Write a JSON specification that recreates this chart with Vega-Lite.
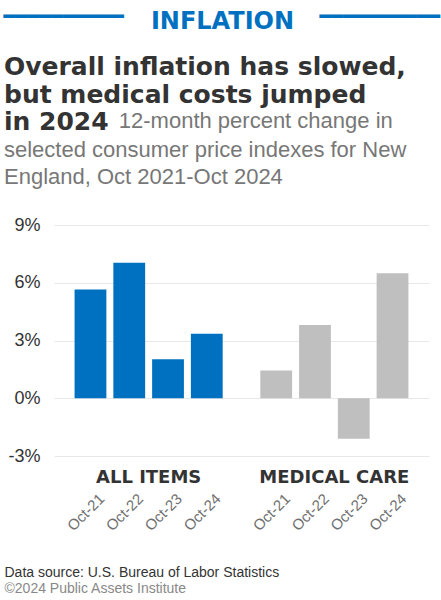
{
  "$schema": "https://vega.github.io/schema/vega-lite/v6.json",
  "autosize": {"type": "none"},
  "width": 375,
  "height": 231,
  "padding": {"left": 54, "top": 225, "right": 12, "bottom": 144},
  "background": "white",
  "title": {
    "text": ["Overall inflation has slowed,", "but medical costs jumped", "in 2024"],
    "subtitle": ["selected consumer price indexes for New", "England, Oct 2021-Oct 2024"],
    "anchor": "start",
    "frame": "group",
    "dx": -50,
    "offset": -181,
    "font": "DejaVu Sans",
    "fontWeight": "bold",
    "fontSize": 25,
    "lineHeight": 27.8,
    "color": "#333333",
    "subtitleFont": "Liberation Sans",
    "subtitleFontSize": 22,
    "subtitleColor": "#777777",
    "subtitleLineHeight": 26.5,
    "subtitlePadding": 4.5
  },
  "data": {
    "values": [
      {"group": "ALL ITEMS", "date": "Oct-21", "change": 5.65},
      {"group": "ALL ITEMS", "date": "Oct-22", "change": 7.04},
      {"group": "ALL ITEMS", "date": "Oct-23", "change": 2.03},
      {"group": "ALL ITEMS", "date": "Oct-24", "change": 3.35},
      {"group": "MEDICAL CARE", "date": "Oct-21", "change": 1.44},
      {"group": "MEDICAL CARE", "date": "Oct-22", "change": 3.81},
      {"group": "MEDICAL CARE", "date": "Oct-23", "change": -2.1},
      {"group": "MEDICAL CARE", "date": "Oct-24", "change": 6.5}
    ]
  },
  "layer": [
    {
      "mark": {"type": "bar"},
      "encoding": {
        "x": {
          "field": "group", "type": "nominal",
          "scale": {"paddingInner": 0.165, "paddingOuter": 0.092},
          "axis": {
            "orient": "bottom",
            "title": "Data source: U.S. Bureau of Labor Statistics",
            "titleFont": "Liberation Sans", "titleFontSize": 14, "titleFontWeight": "normal", "titleColor": "#333333",
            "titleAlign": "left", "titleBaseline": "alphabetic", "titleAngle": 0,
            "titleX": -50, "titleY": 120.7,
            "labelAngle": 0, "labelFont": "DejaVu Sans", "labelFontWeight": "bold", "labelFontSize": 18,
            "labelColor": "#333333", "labelBaseline": "alphabetic", "labelPadding": 26.3,
            "ticks": false, "tickSize": 0, "domain": false, "grid": false
          }
        },
        "xOffset": {"field": "date", "type": "nominal", "scale": {"paddingInner": 0.18, "paddingOuter": 0.09}},
        "y": {
          "field": "change", "type": "quantitative",
          "scale": {"domain": [-3, 9], "nice": false, "zero": false},
          "axis": {
            "orient": "left",
            "values": [-3, 0, 3, 6, 9],
            "labelExpr": "datum.value + '%'",
            "labelFont": "Liberation Sans", "labelFontSize": 18, "labelColor": "#333333",
            "labelPadding": 14, "ticks": false, "tickSize": 0, "domain": false,
            "grid": true, "gridColor": "#e8e8e8", "gridWidth": 1,
            "title": "INFLATION",
            "titleFont": "DejaVu Sans", "titleFontWeight": "bold", "titleFontSize": 24, "titleColor": "#0070c0",
            "titleAngle": 0, "titleAlign": "center", "titleBaseline": "alphabetic",
            "titleX": 168, "titleY": -196.7
          }
        },
        "color": {
          "field": "group", "type": "nominal",
          "scale": {"domain": ["ALL ITEMS", "MEDICAL CARE"], "range": ["#0070c0", "#bfbfbf"]},
          "legend": null
        }
      }
    },
    {
      "mark": {"type": "text", "angle": 315, "align": "right", "baseline": "middle", "dx": -20.5, "dy": 36.6, "font": "Liberation Sans", "fontSize": 15, "color": "#707070"},
      "encoding": {
        "x": {
          "field": "group", "type": "nominal",
          "axis": {
            "orient": "top",
            "title": "\u00a92024 Public Assets Institute",
            "titleFont": "Liberation Sans", "titleFontSize": 14, "titleFontWeight": "normal", "titleColor": "#888888",
            "titleAlign": "left", "titleBaseline": "alphabetic", "titleAngle": 0,
            "titleX": -50, "titleY": 367.7,
            "labels": true,
            "labelExpr": "'\u2501\u2501\u2501\u2501\u2501\u2501\u2501\u2501\u2501\u2501'",
            "labelAngle": 0,
            "labelFont": "DejaVu Sans", "labelFontSize": 20, "labelColor": "#0070c0",
            "labelAlign": "center", "labelBaseline": "alphabetic",
            "labelOffset": {"condition": {"test": "datum.value == 'ALL ITEMS'", "value": -85}, "value": 45.4},
            "labelPadding": 202.5, "labelOverlap": false, "labelBound": false, "labelLimit": 0,
            "ticks": false, "tickSize": 0, "domain": false, "grid": false
          }
        },
        "xOffset": {"field": "date", "type": "nominal"},
        "y": {
          "datum": -3, "type": "quantitative",
          "axis": {
            "orient": "right",
            "title": "12-month percent change in",
            "titleFont": "Liberation Sans", "titleFontWeight": "normal", "titleFontSize": 22, "titleColor": "#777777",
            "titleAngle": 0, "titleAlign": "left", "titleBaseline": "alphabetic",
            "titleX": -310.7, "titleY": -97.7,
            "labels": false, "ticks": false, "domain": false, "grid": false
          }
        },
        "text": {"field": "date"}
      }
    }
  ],
  "resolve": {"axis": {"x": "independent", "y": "independent"}},
  "config": {"view": {"stroke": null}}
}
